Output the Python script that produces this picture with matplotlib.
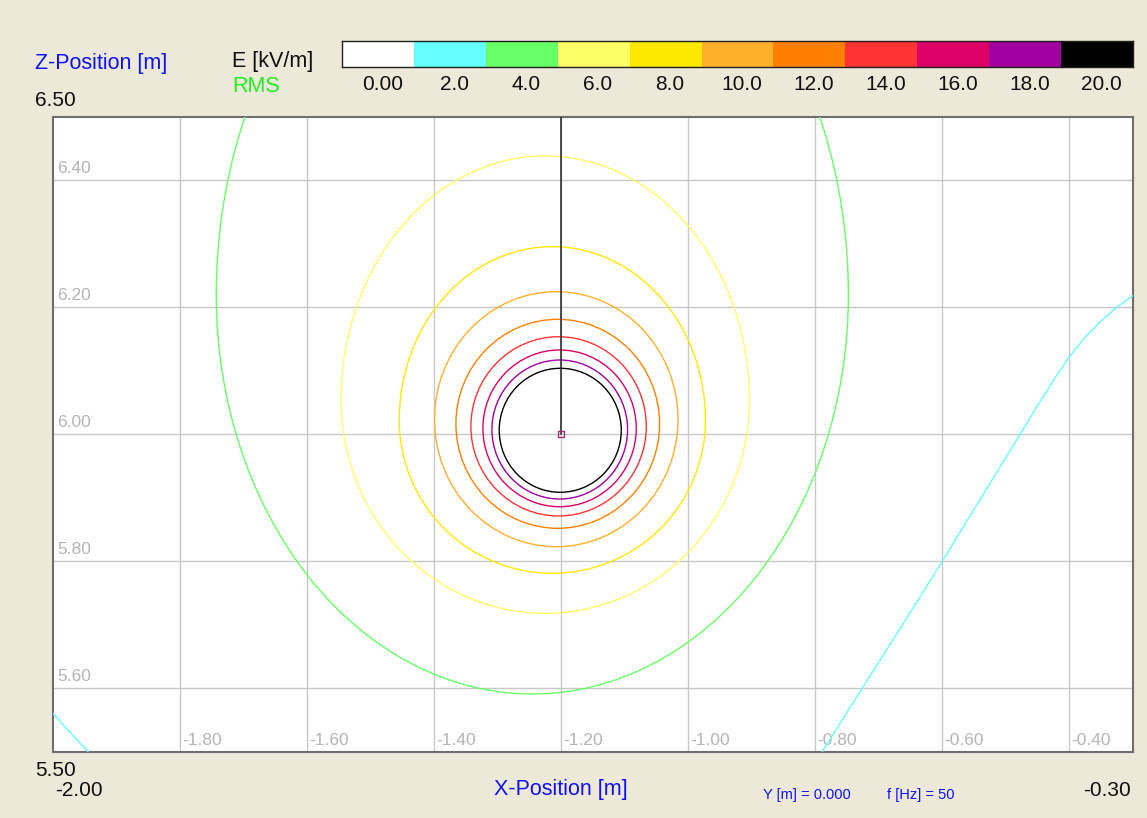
#Package imports
import numpy as np
import matplotlib
matplotlib.use("Agg")
import matplotlib.pyplot as plt
from matplotlib.patches import Arc

plt.rcParams['font.family'] = ['Liberation Sans', 'DejaVu Sans']

#Field levels and colours of the legend bar
legendLabels = ["0.00", "2.0", "4.0", "6.0", "8.0", "10.0", "12.0", "14.0", "16.0", "18.0", "20.0"]
legendColors = ["#FFFFFF", "#66FFFF", "#66FF66", "#FFFF66", "#FFE800", "#FFB02A",
                "#FF8000", "#FF3333", "#DD0066", "#A000A0", "#000000"]

#Closed iso-lines (E in kV/m), extents in metres
levels = [20, 18, 16, 14, 12, 10, 8, 6, 4]
xLeft = [-1.2976, -1.3091, -1.3233, -1.3422, -1.3658, -1.3995, -1.455, -1.5465, -1.743]
xRight = [-1.1055, -1.0956, -1.0819, -1.0661, -1.0452, -1.0162, -0.973, -0.9039, -0.748]
zMid = [6.006, 6.007, 6.009, 6.012, 6.016, 6.023, 6.022, 6.0535, 6.219]
zTop = [6.1035, 6.1165, 6.1323, 6.1532, 6.1806, 6.2241, 6.295, 6.438, 6.893]
zBottom = [5.9082, 5.8976, 5.8855, 5.8709, 5.8515, 5.8225, 5.7806, 5.7176, 5.5906]

#Open 2 kV/m iso-lines
cyanRightX = [-0.789, -0.75, -0.70, -0.65, -0.60, -0.55, -0.50, -0.45, -0.425,
              -0.40, -0.375, -0.35, -0.325, -0.30]
cyanRightZ = [5.50, 5.562, 5.641, 5.72, 5.80, 5.882, 5.963, 6.045, 6.085,
              6.122, 6.153, 6.178, 6.20, 6.218]
cyanLeftX = [-2.00, -1.975, -1.945]
cyanLeftZ = [5.56, 5.532, 5.50]

#Conductor position
condX = -1.20
condZ = 6.00

#Grid / tick values
xTicks = [-1.80, -1.60, -1.40, -1.20, -1.00, -0.80, -0.60, -0.40]
zTicks = [5.60, 5.80, 6.00, 6.20, 6.40]

W, H = 1147, 818
bg = "#ECE9D8"
blue = "#1010FF"


def fx(px):
    return px / W


def fy(py):
    return 1 - py / H


def levelColor(level):
    return legendColors[legendLabels.index("%.1f" % level)]


fig = plt.figure(figsize=(W / 100, H / 100), dpi=100, facecolor=bg)

#Main plot area
ax = fig.add_axes([fx(53), fy(751.5), 1080 / W, 635 / H])
ax.set_facecolor("white")
ax.set_xlim(-2.0, -0.3)
ax.set_ylim(5.5, 6.5)
ax.set_xticks([])
ax.set_yticks([])
for s in ax.spines.values():
    s.set_color("#6E6E6E")
    s.set_linewidth(1.5)

for x in xTicks:
    ax.axvline(x, color="#C8C8C8", lw=1.0, zorder=0)
    ax.text(x + 0.003, 5.506, "%.2f" % x, color="#B4B4B4", fontsize=12.5,
            ha="left", va="bottom")
for z in zTicks:
    ax.axhline(z, color="#C8C8C8", lw=1.0, zorder=0)
    ax.text(-1.994, z + 0.006, "%.2f" % z, color="#B4B4B4", fontsize=12.5,
            ha="left", va="bottom")

#Iso-lines drawn as two half ellipses (upper and lower part)
for i, level in enumerate(levels):
    col = levelColor(level)
    xc = (xLeft[i] + xRight[i]) / 2
    w = xRight[i] - xLeft[i]
    ax.add_patch(Arc((xc, zMid[i]), w, 2 * (zTop[i] - zMid[i]), theta1=0, theta2=180,
                     color=col, lw=1.0, zorder=3))
    ax.add_patch(Arc((xc, zMid[i]), w, 2 * (zMid[i] - zBottom[i]), theta1=180, theta2=360,
                     color=col, lw=1.0, zorder=3))

ax.plot(cyanRightX, cyanRightZ, color=legendColors[1], lw=1.0, zorder=3)
ax.plot(cyanLeftX, cyanLeftZ, color=legendColors[1], lw=1.0, zorder=3)

#Conductor and its vertical lead
ax.plot([condX, condX], [condZ, 6.5], color="#303030", lw=1.2, zorder=4)
ax.plot([condX], [condZ], marker="s", ms=4.5, mfc="none", mec="#A03070", mew=1.0, zorder=5)

#Legend bar
cax = fig.add_axes([fx(342), fy(67), 791 / W, 26 / H])
cax.bar(np.arange(len(legendColors)), 1, width=1.0, color=legendColors, align="center")
cax.set_xlim(-0.5, len(legendColors) - 0.5)
cax.set_ylim(0, 1)
cax.set_xticks([])
cax.set_yticks([])
for s in cax.spines.values():
    s.set_color("#202020")
    s.set_linewidth(1.0)
for i, lab in enumerate(legendLabels):
    cax.text(i + 0.06, -0.3, lab, ha="center", va="top", fontsize=15, color="#101010")

#Labels around the plot
fig.text(fx(35), fy(63), "Z-Position [m]", color=blue, fontsize=15.5, ha="left", va="center")
fig.text(fx(232), fy(62), "E [kV/m]", color="#101010", fontsize=15.5, ha="left", va="center")
fig.text(fx(232), fy(86), "RMS", color="#22EE22", fontsize=15.5, ha="left", va="center")
fig.text(fx(35), fy(100), "6.50", color="#101010", fontsize=15, ha="left", va="center")
fig.text(fx(35), fy(771), "5.50", color="#101010", fontsize=15, ha="left", va="center")
fig.text(fx(55), fy(790), "-2.00", color="#101010", fontsize=15, ha="left", va="center")
fig.text(fx(1131), fy(790), "-0.30", color="#101010", fontsize=15, ha="right", va="center")
fig.text(fx(561), fy(790), "X-Position [m]", color=blue, fontsize=15.5, ha="center", va="center")
fig.text(fx(763), fy(795), "Y [m] = 0.000", color=blue, fontsize=10.5, ha="left", va="center")
fig.text(fx(887), fy(795), "f [Hz] = 50", color=blue, fontsize=10.5, ha="left", va="center")

fig.savefig("out.png", dpi=100, facecolor=bg)
